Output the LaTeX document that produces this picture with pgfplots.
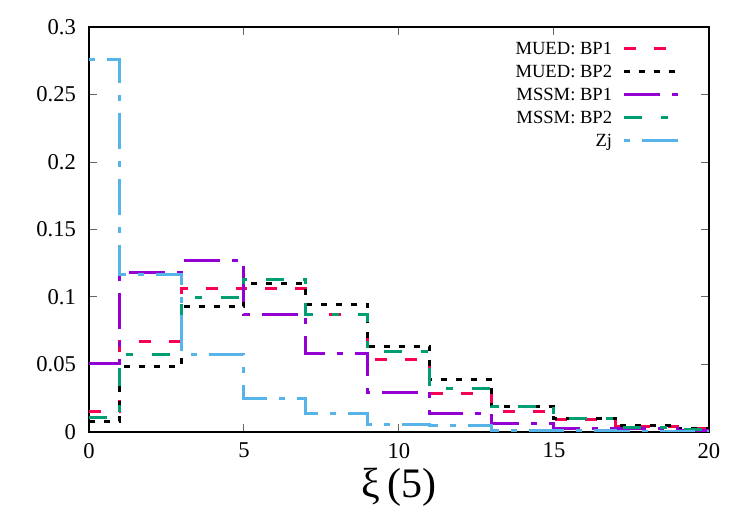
\documentclass[border=0pt]{standalone}
\usepackage{pgfplots}
\pgfplotsset{compat=1.18}
\usepackage{pgfplotstable}
\usepackage{fontspec}
\setmainfont{Liberation Serif}
\definecolor{cred}{RGB}{250,0,80}
\definecolor{cpur}{RGB}{148,0,211}
\definecolor{cgrn}{RGB}{0,158,115}
\definecolor{cblu}{RGB}{86,180,233}
\pgfplotstableread{
x   mueda  muedb  mssma  mssmb  zj
0   0.0152 0.0081 0.0504 0.0106 0.2756
1   0.0667 0.0486 0.1183 0.0575 0.1163
3   0.1064 0.0933 0.1269 0.0998 0.0575
5   0.1060 0.1100 0.0869 0.1126 0.0250
7   0.0867 0.0946 0.0580 0.0870 0.0138
9   0.0540 0.0635 0.0295 0.0595 0.0055
11  0.0288 0.0390 0.0135 0.0320 0.0050
13  0.0152 0.0190 0.0060 0.0190 0.0012
15  0.0095 0.0099 0.0025 0.0099 0.0008
17  0.0040 0.0049 0.0025 0.0037 0.0005
19  0.0025 0.0025 0.0010 0.0020 0.0003
20  0.0025 0.0025 0.0010 0.0020 0.0003
}\datatable
\begin{document}
\begin{tikzpicture}
\begin{axis}[
  scale only axis,
  width=310pt, height=202.5pt,
  xmin=0, xmax=20, ymin=0, ymax=0.3,
  xtick={0,5,10,15,20},
  ytick={0,0.05,0.1,0.15,0.2,0.25,0.3},
  tick align=inside,
  major tick length=4pt,
  tick style={black!60, line width=0.5pt},
  axis line style={line width=0.6pt},
  /pgf/number format/assume math mode=true,
  yticklabel style={/pgf/number format/fixed, /pgf/number format/precision=2},
  ticklabel style={font=\fontsize{11.3}{13}\selectfont},
  xticklabel style={yshift=-2pt},
  yticklabel style={xshift=-3pt},
  xlabel={ξ\,(5)},
  xlabel style={font=\fontsize{21}{25}\selectfont, yshift=2pt},
  legend cell align=right,
  legend plot pos=right,
  legend image code/.code={\draw[#1] (0pt,0pt) -- (28.5pt,0pt);},
  legend style={draw=none, fill=none, at={(0.967,0.985)}, anchor=north east,
    font=\fontsize{9.3}{11}\selectfont,
    nodes={inner sep=1.5pt, text height=6.8pt, text depth=1.7pt},
    row sep=0pt,
    /tikz/every odd column/.append style={column sep=3.5pt}},
  every axis plot/.append style={line width=1.5pt, const plot},
]
\addplot[cred, dash pattern=on 6pt off 9pt] table[x=x,y=mueda] {\datatable};
\addlegendentry{MUED: BP1}
\addplot[black, dash pattern=on 3pt off 4.5pt] table[x=x,y=muedb] {\datatable};
\addlegendentry{MUED: BP2}
\addplot[cpur, dash pattern=on 18pt off 6pt on 3pt off 6pt] table[x=x,y=mssma] {\datatable};
\addlegendentry{MSSM: BP1}
\addplot[cgrn, dash pattern=on 9pt off 9.5pt on 3.5pt off 9.5pt] table[x=x,y=mssmb] {\datatable};
\addlegendentry{MSSM: BP2}
\addplot[cblu, dash pattern=on 3pt off 6pt on 18pt off 6pt] table[x=x,y=zj] {\datatable};
\addlegendentry{Zj}
\end{axis}
\pgfresetboundingbox
\path[use as bounding box] (current axis.south west) ++(-44.5pt,-46.5pt) rectangle ([shift={(20.5pt,13.5pt)}]current axis.north east);
\end{tikzpicture}
\end{document}
